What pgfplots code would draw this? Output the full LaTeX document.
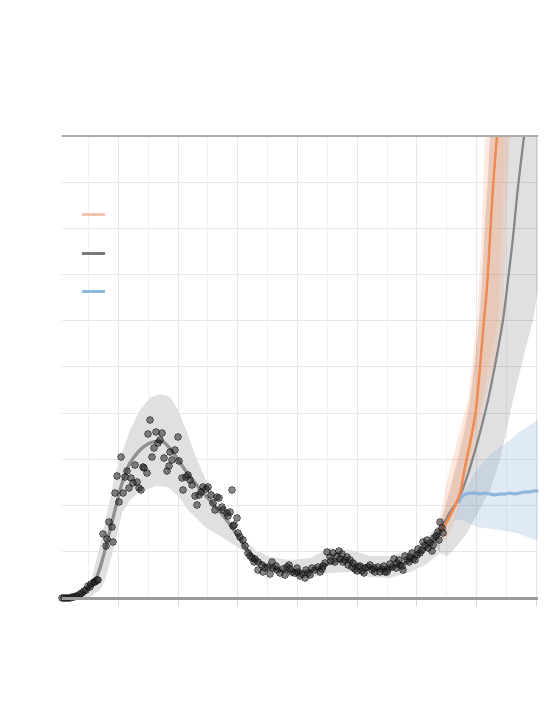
\documentclass[border=0pt]{standalone}
\usepackage{pgfplots}
\pgfplotsset{compat=1.18}
\definecolor{gridc}{RGB}{232,232,232}
\definecolor{gridm}{RGB}{241,241,241}
\definecolor{tickc}{RGB}{215,215,215}
\definecolor{axtop}{RGB}{170,170,170}
\definecolor{axbot}{RGB}{155,155,155}
\definecolor{bandg}{RGB}{224,224,224}
\definecolor{fitg}{RGB}{125,125,125}
\definecolor{projg}{RGB}{135,135,135}
\definecolor{orng}{RGB}{240,138,82}
\definecolor{salm}{RGB}{242,160,120}
\definecolor{blu}{RGB}{140,180,220}
\definecolor{blul}{RGB}{137,178,218}
\definecolor{legsal}{RGB}{244,196,176}
\definecolor{legg}{RGB}{120,120,120}
\definecolor{legb}{RGB}{143,184,222}
\begin{document}
\begin{tikzpicture}
\begin{axis}[
  scale only axis, width=238pt, height=231pt,
  xmin=0, xmax=476, ymin=0, ymax=462,
  axis line style={draw=none},
  xtick={56.4,116.1,175.8,235.5,295.2,354.9,414.6,474.3},
  minor xtick={26.5,86.2,145.9,205.6,265.3,325.0,384.7,444.4},
  ytick={46.2,92.4,138.6,184.8,231,277.2,323.4,369.6,415.8},
  xticklabels={}, yticklabels={},
  xmajorgrids, xminorgrids, ymajorgrids,
  major grid style={gridc, line width=0.5pt},
  minor grid style={gridm, line width=0.5pt},
  xtick pos=left, tick align=outside,
  major tick length=4pt, minor tick length=0pt,
  xtick style={color=tickc, line width=0.5pt},
  ytick style={draw=none},
  clip=true,
]
% observed-period band
\addplot[draw=none, fill=bandg] coordinates {
(0,1)(18,5)(28,13)(38,53)(48,98)(53,123)(60,145)(68,168)(78,188)(88,200)(98,204)(108,201)(116,188)(126,163)(133,143)(143,120)(150,108)(160,90)(170,75)(183,58)(193,48)(208,41)(228,38)(248,40)(268,50)(288,48)(308,42)(328,42)(348,48)(363,58)(378,75)
(378,45)(363,33)(348,26)(328,20)(308,21)(288,26)(268,25)(248,20)(228,21)(208,28)(193,36)(180,48)(160,61)(143,71)(126,88)(118,100)(106,111)(93,112)(76,105)(68,98)(60,85)(50,43)(43,18)(38,8)(28,1)(0,0)
} -- cycle;
% projection gray band
\addplot[draw=none, fill=black, fill opacity=0.12] coordinates {
(371,58)(378,73)(388,108)(396,138)(403,168)(408,198)(413,238)(417,278)(420,318)(423,378)(426,418)(428,462)(428,480)
(476,480)(476,308)(471,278)(463,248)(451,198)(438,138)(428,108)(421,95)(405,65)(393,50)(385,42)(378,45)
} -- cycle;
% blue band
\addplot[draw=none, fill=blu, fill opacity=0.28] coordinates {
(393,83)(403,108)(413,126)(428,143)(438,151)(448,158)(455,164)(462,169)(468,173)(476,178)
(476,57)(465,61)(455,65)(438,68)(415,71)(401,78)(393,78)
} -- cycle;
% salmon bands
\addplot[draw=none, fill=salm, fill opacity=0.22] coordinates {
(372,58)(378,81)(388,131)(398,168)(406,198)(415,278)(419,348)(423,462)(423,480)
(450,480)(448,462)(444,378)(441,278)(433,238)(423,198)(410,131)(394,81)(384,58)
} -- cycle;
\addplot[draw=none, fill=salm, fill opacity=0.2] coordinates {
(380,78)(393,131)(408,198)(418,278)(428,462)(428,480)
(444,480)(443,462)(436,278)(420,198)(406,131)(388,78)
} -- cycle;
% fitted line (observed)
\addplot[fitg, line width=1.6pt, opacity=0.8, smooth] coordinates {
(0,0)(13,1)(23,6)(33,18)(38,30)(43,48)(48,68)(53,88)(58,108)(63,123)(68,135)(78,148)(88,155)(98,157)(103,155)(113,143)(123,128)(133,115)(143,103)(153,92)(163,80)(173,66)(183,51)(193,40)(203,33)(218,28)(233,26)(248,27)(263,33)(278,38)(288,37)(298,33)(313,30)(328,30)(343,35)(358,45)(368,54)(378,67)
};
% observations
\addplot[only marks, mark=*, mark size=1.75pt,
  mark options={fill=black!85, fill opacity=0.55, draw=black, draw opacity=0.6, line width=0.3pt}] coordinates {
(0,0)(2,0)(4,0)(6,0)(8,0)(10,1)(12,1)(14,2)(16,2)(18,4)(20,5)(22,7)(24,8)(26,12)(28,11)(29,14)(32,16)(33,16)(35,18)(36,18)
(41,64)(45,59)(44,52)(51,56)(47,76)(50,71)(59,141)(55,122)(53,105)(57,96)(61,105)(63,121)(65,127)(67,110)(69,120)(73,133)(71,115)(75,116)(77,110)(79,108)(81,131)(82,130)(85,125)(88,178)(86,164)(94,166)(100,165)(90,141)(92,150)(96,155)(98,158)(102,140)(105,127)(107,132)(108,146)(110,138)(113,148)(116,161)(117,137)(120,120)(121,108)(124,121)(126,123)(128,118)(130,113)(133,102)(135,93)(137,103)(139,106)(141,111)(144,109)(146,111)(149,103)(151,95)(153,88)(155,101)(157,100)(160,91)(161,88)(165,85)(166,82)(168,86)(170,108)(172,73)(175,80)(176,65)(178,61)(181,58)(183,52)(186,45)(188,42)(190,40)(192,36)
(171,72)(193,39)(196,36)(200,33)(203,30)(206,31)(210,36)(211,30)(215,28)(218,25)(221,29)(225,31)(227,33)(230,26)(233,25)(236,26)(240,24)(243,20)(246,25)(250,30)(253,28)(256,31)(260,29)(263,35)(265,46)(268,41)(271,45)(275,42)(278,39)(281,36)(285,41)(286,33)(290,31)(293,29)(296,31)(300,27)(303,30)(306,31)(310,28)(313,26)(316,31)(320,29)(323,26)(326,29)(330,31)(332,39)(335,35)(338,33)(341,28)(345,38)(348,41)(351,39)(355,43)(358,45)(361,56)(365,58)(368,55)(370,47)(372,60)(376,66)(378,76)(380,70)(381,65)
(196,28)(201,26)(208,24)(214,32)(223,23)(228,29)(235,30)(238,22)(244,28)(248,23)(258,26)(261,32)(269,37)(273,36)(277,47)(280,44)(283,38)(288,38)(291,35)(295,27)(298,32)(302,25)(308,33)(312,30)(318,26)(322,32)(325,26)(328,34)(334,30)(337,38)(340,32)(343,42)(347,36)(350,45)(353,38)(356,49)(360,48)(363,52)(366,50)(371,53)(374,62)(377,58)
};
% projection lines
\addplot[projg, line width=1.1pt, smooth] coordinates {
(378,67)(388,86)(396,98)(405,121)(416,158)(426,198)(434,238)(441,278)(446,318)(451,361)(456,411)(462,462)(463,473)
};
\addplot[blul, line width=1.6pt, opacity=0.9] coordinates {
(396,95)(400,102)(404,104)(408,105)(413,105)(418,104)(423,105)(428,104)(433,103)(438,104)(443,104)(448,105)(453,104)(458,105)(463,106)(468,106)(472,107)(476,107)
};
\addplot[orng, line width=1.2pt, smooth] coordinates {
(378,67)(383,73)(391,88)(398,105)(403,131)(410,165)(415,198)(422,278)(425,311)(428,361)(431,411)(435,463)(436,478)
};
% legend keys
\draw[legsal, line width=1.5pt] (axis cs:20,383) -- (axis cs:43,383);
\draw[legg, line width=1.5pt] (axis cs:20,344) -- (axis cs:43,344);
\draw[legb, line width=1.5pt] (axis cs:20,306) -- (axis cs:43,306);
\coordinate (SW) at (rel axis cs:0,0);
\coordinate (SE) at (rel axis cs:1,0);
\coordinate (NW) at (rel axis cs:0,1);
\coordinate (NE) at (rel axis cs:1,1);
\end{axis}
\draw[axtop, line width=0.75pt] (NW) -- (NE);
\draw[axbot, line width=1.5pt] (SW) -- (SE);
\path (SW) ++(-31pt,-63pt) coordinate (BL);
\path (NE) ++(11pt,68pt) coordinate (TR);
\path (BL) rectangle (TR);
\end{tikzpicture}
\end{document}
